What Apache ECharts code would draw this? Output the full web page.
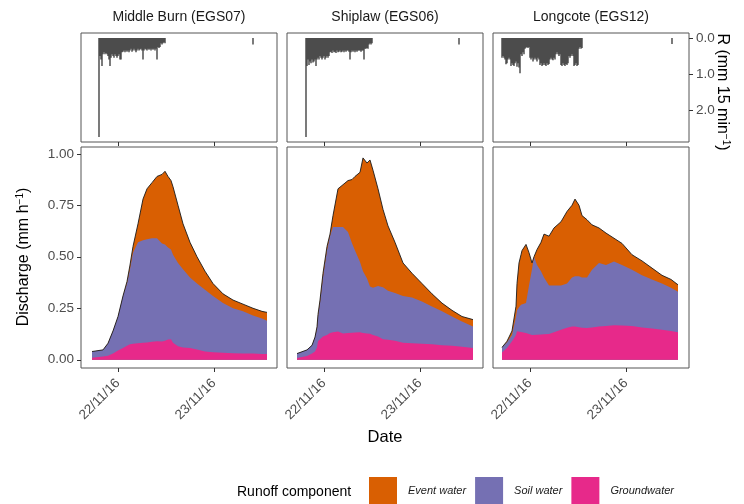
<!DOCTYPE html>
<html><head><meta charset="utf-8">
<script src="https://cdn.jsdelivr.net/npm/echarts@6/dist/echarts.min.js"></script>
<style>html,body{margin:0;padding:0;background:#fff}#c{width:744px;height:504px}</style>
</head><body><div id="c"></div>
<script>
// ---------- data ----------
const panelTitles = ['Middle Burn (EGS07)', 'Shiplaw (EGS06)', 'Longcote (EGS12)'];
const tickHours = [24, 48];               // hours since 21/11/16 00:00
const tickLabels = ['22/11/16', '23/11/16'];
const dischargeTicks = [0, 0.25, 0.5, 0.75, 1];
const rainTicks = [0, 1, 2];

// Middle Burn (EGS07) discharge components (mm/h)
const mbHours = [17.5, 20.25, 21.5, 22.75, 24, 25.25, 26.25, 27, 27.75, 29, 30.25, 31.25, 32.5, 33.75, 35, 35.75, 36.5, 37.25, 37.75, 39, 40.25, 42, 43.75, 45.75, 47.75, 50.25, 52.75, 55.25, 57.75, 60, 61.25];
const mbGround = [.010, .016, .020, .030, .045, .057, .068, .075, .078, .080, .082, .084, .088, .090, .089, .092, .098, .100, .082, .065, .060, .057, .050, .040, .036, .034, .032, .030, .030, .028, .028];
const mbSoil = [.030, .032, .060, .110, .165, .253, .302, .365, .442, .490, .498, .501, .502, .500, .476, .468, .447, .435, .428, .405, .380, .343, .320, .300, .274, .241, .218, .205, .185, .172, .162];
const mbEvent = [0, 0, 0, 0, 0, 0, .010, .020, .030, .090, .200, .245, .270, .300, .335, .355, .345, .335, .330, .280, .220, .170, .130, .090, .060, .045, .040, .035, .035, .035, .040];
// rainfall (mm per 15 min), first bar at mbRainStart hours
const mbRainStart = 19.25;
const mbRain = [2.75, .5, .6, .78, .45, .4, .45, .42, .45, .5, .6, .78, .55, .45, .5, .55, .45, .5, .55, .5,
  .45, .6, .6, .4, .38, .35, .4, .35, .38, .35, .4, .35, .3, .38, .35, .3, .35, .4, .35, .3,
  .35, .32, .3, .35, .6, .35, .3, .32, .35, .3, .33, .3, .35, .3, .33, .3, .35, .3, .6, .25,
  .28, .25, .15, .18, .15, .12, .15];
const mbRainLate = [[57.75, 0.18]];

// Shiplaw (EGS06)
const spHours = [17.25, 19.75, 21, 21.75, 22.25, 22.5, 23, 23.75, 24.75, 25.5, 26.25, 27.5, 28.75, 30, 31, 31.75, 33, 33.75, 34.75, 35.5, 36.25, 37.5, 38.75, 40, 41.75, 43.75, 46, 48.5, 51, 53.5, 56, 58.5, 61.25];
const spGround = [.008, .018, .030, .040, .060, .090, .100, .113, .120, .130, .134, .137, .128, .130, .131, .132, .133, .130, .128, .126, .120, .113, .100, .097, .092, .082, .080, .078, .075, .071, .068, .063, .057];
const spSoil = [.022, .030, .040, .070, .090, .120, .175, .287, .410, .470, .510, .507, .516, .490, .435, .398, .342, .300, .267, .230, .230, .245, .252, .238, .232, .228, .222, .205, .184, .164, .142, .123, .105];
const spEvent = [0, 0, 0, 0, .010, .010, .015, .020, .020, .010, .056, .186, .206, .250, .309, .360, .435, .550, .560, .614, .570, .472, .378, .315, .246, .160, .118, .087, .061, .040, .030, .024, .033];
const spRainStart = 19.5;
const spRain = [2.75, .78, .6, .75, .65, .7, .6, .68, .65, .6, .78, .6, .55, .6, .5, .55, .6, .55, .5, .6,
  .55, .5, .55, .5, .4, .38, .42, .35, .4, .38, .42, .35, .4, .38, .35, .4, .38, .35, .4, .35,
  .38, .35, .35, .38, .6, .4, .35, .38, .35, .4, .35, .38, .35, .35, .35, .38, .35, .35, .6, .3,
  .3, .28, .3, .18, .15, .18, .15];
const spRainLate = [[57.75, 0.18]];

// Longcote (EGS12)
const lcHours = [17, 18.25, 19.5, 20.5, 20.75, 21.25, 21.75, 22, 23, 23.75, 24.5, 25, 25.75, 26.75, 27.5, 28.75, 30, 31.75, 33.25, 34.5, 35.25, 36.25, 37, 38.25, 39.5, 41.25, 43, 45, 47, 49.5, 52, 54.5, 57, 59.25, 61];
const lcGround = [.035, .057, .090, .120, .138, .137, .135, .134, .130, .125, .120, .120, .121, .123, .124, .125, .133, .146, .155, .162, .162, .158, .156, .154, .157, .162, .164, .167, .166, .164, .157, .152, .146, .140, .133];
const lcSoil = [.025, .028, .030, .090, .102, .118, .132, .136, .145, .235, .320, .380, .339, .307, .276, .235, .227, .214, .215, .238, .243, .247, .244, .246, .280, .308, .296, .310, .294, .273, .253, .238, .224, .210, .197];
const lcEvent = [0, .005, .020, .050, .130, .215, .243, .260, .285, .160, .030, 0, .075, .140, .210, .240, .280, .310, .350, .350, .375, .345, .300, .280, .218, .170, .155, .113, .105, .073, .070, .055, .040, .040, .034];
const lcRainStart = 17.0;
const lcRain = [.55, .5, .55, .6, .73, .7, .6, .55, .6, .78, .7, .75, .78, .7, .65, .8, .7, .82, .98, .45,
  .5, .4, .45, .3, .27, .25, .28, .25, .55, .6, .55, .65, .6, .55, .6, .65, .55, .6, .75, .7,
  .78, .75, .7, .75, .78, .7, .75, .72, .6, .55, .6, .62, .55, .6, .45, .4, .45, .5, .45, .75,
  .78, .7, .75, .78, .72, .75, .7, .5, .55, .5, .45, .5, .78, .75, .7, .78, .75, .3, .25, .3, .28];
const lcRainLate = [[59.5, 0.17]];

const rainStep = 0.25; // 15 minutes

// ---------- chart ----------
const C_EVENT = '#D95F02', C_SOIL = '#7570B3', C_GROUND = '#E7298A', C_RAIN = '#333333';
const FONT = '"Liberation Sans", Arial, Helvetica, sans-serif';
const panels = [
  {hours: mbHours, ground: mbGround, soil: mbSoil, event: mbEvent, rs: mbRainStart, rain: mbRain, late: mbRainLate},
  {hours: spHours, ground: spGround, soil: spSoil, event: spEvent, rs: spRainStart, rain: spRain, late: spRainLate},
  {hours: lcHours, ground: lcGround, soil: lcSoil, event: lcEvent, rs: lcRainStart, rain: lcRain, late: lcRainLate}
];
const LEFTS = [81, 287, 493], W = 196;
const grid = [], xAxis = [], yAxis = [], series = [];
const tickFmt = v => { const i = tickHours.indexOf(v); return i >= 0 ? tickLabels[i] : ''; };

LEFTS.forEach((l) => {
  grid.push({left: l, top: 33, width: W, height: 109, show: true, borderColor: '#555', borderWidth: 1, outerBoundsMode: 'none'});
});
LEFTS.forEach((l) => {
  grid.push({left: l, top: 147, width: W, height: 221, show: true, borderColor: '#555', borderWidth: 1, outerBoundsMode: 'none'});
});
for (let g = 0; g < 6; g++) {
  const bottom = g >= 3;
  xAxis.push({
    type: 'value', gridIndex: g, min: 14.75, max: 63.75,
    axisLine: {show: false, onZero: false},
    splitLine: {show: false},
    axisTick: {show: true, customValues: tickHours, length: 4, lineStyle: {color: '#333', width: 1}},
    axisLabel: {show: bottom, customValues: tickHours, formatter: tickFmt, rotate: 45, fontSize: 13.5,
      color: '#4d4d4d', fontFamily: FONT, margin: 13}
  });
}
for (let g = 0; g < 3; g++) {
  const show = g === 2;
  yAxis.push({
    type: 'value', gridIndex: g, inverse: true, min: -0.1375, max: 2.8875, position: 'right',
    axisLine: {show: false, onZero: false}, splitLine: {show: false},
    axisTick: {show: show, customValues: rainTicks, length: 4, lineStyle: {color: '#333'}},
    axisLabel: {show: show, customValues: rainTicks, formatter: v => v.toFixed(1), fontSize: 13.5,
      color: '#4d4d4d', fontFamily: FONT, margin: 7}
  });
}
for (let g = 0; g < 3; g++) {
  const show = g === 0;
  yAxis.push({
    type: 'value', gridIndex: 3 + g, min: -0.04, max: 1.033, position: 'left',
    axisLine: {show: false, onZero: false}, splitLine: {show: false},
    axisTick: {show: show, customValues: dischargeTicks, length: 4, lineStyle: {color: '#333'}},
    axisLabel: {show: show, customValues: dischargeTicks, formatter: v => v.toFixed(2), fontSize: 13.5,
      color: '#4d4d4d', fontFamily: FONT, margin: 7}
  });
}

panels.forEach((p, i) => {
  const rainPairs = p.rain.map((v, k) => [p.rs + k * rainStep, v]).concat(p.late);
  series.push({type: 'bar', xAxisIndex: i, yAxisIndex: i, data: rainPairs, barWidth: 1.3,
    itemStyle: {color: C_RAIN}, silent: true});
  const gTop = p.ground.map((v, k) => [p.hours[k], v]);
  const sTop = p.ground.map((v, k) => [p.hours[k], v + p.soil[k]]);
  const tot = p.ground.map((v, k) => [p.hours[k], v + p.soil[k] + p.event[k]]);
  const common = {type: 'line', xAxisIndex: 3 + i, yAxisIndex: 3 + i, symbol: 'none', showSymbol: false,
    silent: true, lineStyle: {width: 0}};
  series.push(Object.assign({}, common, {name: 'Event water', data: tot, z: 2,
    itemStyle: {color: C_EVENT}, areaStyle: {color: C_EVENT, opacity: 1}}));
  series.push(Object.assign({}, common, {name: 'Soil water', data: sTop, z: 3,
    itemStyle: {color: C_SOIL}, areaStyle: {color: C_SOIL, opacity: 1}}));
  series.push(Object.assign({}, common, {name: 'Groundwater', data: gTop, z: 4,
    itemStyle: {color: C_GROUND}, areaStyle: {color: C_GROUND, opacity: 1}}));
  series.push({type: 'line', name: 'total', xAxisIndex: 3 + i, yAxisIndex: 3 + i, data: tot, z: 5,
    symbol: 'none', silent: true, lineStyle: {color: '#1a1a1a', width: 0.9}, itemStyle: {color: '#1a1a1a'}});
});

const graphic = [];
panelTitles.forEach((t, i) => graphic.push({type: 'text', x: LEFTS[i] + W / 2, y: 17,
  style: {text: t, fontSize: 14, fontFamily: FONT, fill: '#1a1a1a', align: 'center', verticalAlign: 'middle'}}));
graphic.push({type: 'text', x: 24, y: 257, rotation: Math.PI / 2,
  style: {text: 'Discharge (mm h{s|−1})', fontSize: 16, fontFamily: FONT, fill: '#000', align: 'center', verticalAlign: 'middle',
    rich: {s: {fontSize: 10, fontFamily: FONT, verticalAlign: 'top', lineHeight: 18}}}});
graphic.push({type: 'text', x: 722, y: 92, rotation: -Math.PI / 2,
  style: {text: 'R (mm 15 min{s|−1})', fontSize: 16, fontFamily: FONT, fill: '#000', align: 'center', verticalAlign: 'middle',
    rich: {s: {fontSize: 10, fontFamily: FONT, verticalAlign: 'top', lineHeight: 18}}}});
graphic.push({type: 'text', x: 385, y: 437,
  style: {text: 'Date', fontSize: 16.5, fontFamily: FONT, fill: '#000', align: 'center', verticalAlign: 'middle'}});
graphic.push({type: 'text', x: 237, y: 492,
  style: {text: 'Runoff component', fontSize: 14, fontFamily: FONT, fill: '#000', align: 'left', verticalAlign: 'middle'}});

const chart = echarts.init(document.getElementById('c'), null, {renderer: 'canvas'});
chart.setOption({
  animation: false,
  backgroundColor: '#fff',
  grid, xAxis, yAxis, series, graphic,
  legend: {
    left: 369, top: 477, padding: 0, itemWidth: 28, itemHeight: 28, itemGap: 9, icon: 'rect', selectedMode: false,
    data: [
      {name: 'Event water', itemStyle: {color: C_EVENT}},
      {name: 'Soil water', itemStyle: {color: C_SOIL}},
      {name: 'Groundwater', itemStyle: {color: C_GROUND}}
    ],
    itemStyle: {borderWidth: 0},
    textStyle: {fontStyle: 'italic', fontSize: 11, color: '#1a1a1a', fontFamily: FONT, padding: [0, 0, 0, 6]}
  }
});
</script></body></html>
